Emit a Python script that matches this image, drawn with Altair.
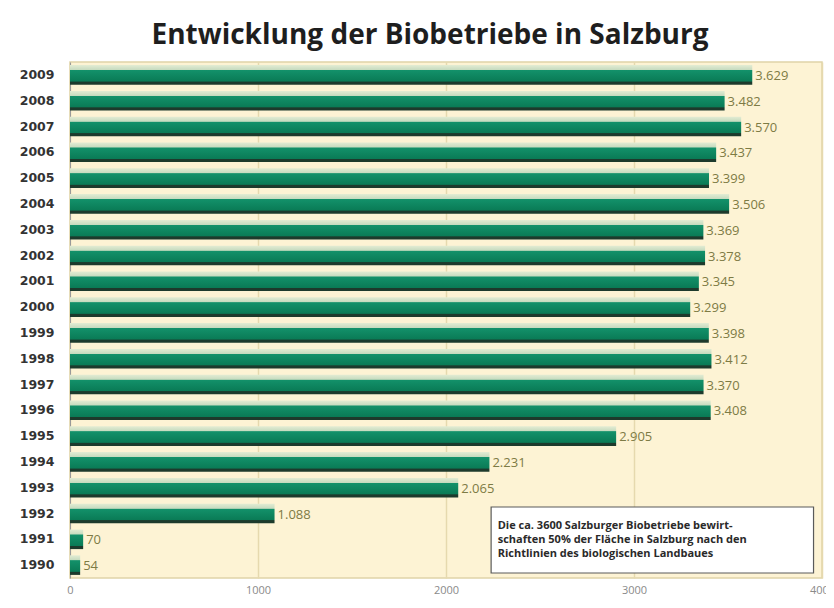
import altair as alt
import pandas as pd

years = [2009, 2008, 2007, 2006, 2005, 2004, 2003, 2002, 2001, 2000,
         1999, 1998, 1997, 1996, 1995, 1994, 1993, 1992, 1991, 1990]
values = [3629, 3482, 3570, 3437, 3399, 3506, 3369, 3378, 3345, 3299,
          3398, 3412, 3370, 3408, 2905, 2231, 2065, 1088, 70, 54]
x_ticks = [0, 1000, 2000, 3000, 4000]
note_lines = [
    "Die ca. 3600 Salzburger Biobetriebe bewirt-",
    "schaften 50% der Fläche in Salzburg nach den",
    "Richtlinien des biologischen Landbaues",
]
title_text = "Entwicklung der Biobetriebe in Salzburg"

df = pd.DataFrame({
    "Jahr": [str(y) for y in years],
    "Betriebe": values,
    "Label": [f"{v:,}".replace(",", ".") for v in values],
})
year_order = [str(y) for y in years]

x_scale = alt.Scale(domain=[0, 4000], nice=False, zero=True)
y_scale = alt.Scale(domain=year_order, paddingInner=0.24, paddingOuter=0.12)

bar_gradient = alt.Gradient(
    gradient="linear", x1=0, y1=0, x2=0, y2=1,
    stops=[
        alt.GradientStop(offset=0, color="#e3ecd3"),
        alt.GradientStop(offset=0.24, color="#c6dbbf"),
        alt.GradientStop(offset=0.27, color="#13916a"),
        alt.GradientStop(offset=0.82, color="#0a7b56"),
        alt.GradientStop(offset=0.86, color="#1d3a2c"),
        alt.GradientStop(offset=1, color="#1d3a2c"),
    ],
)

base = alt.Chart(df)

bars = base.mark_bar(color=bar_gradient).encode(
    x=alt.X("Betriebe:Q", scale=x_scale,
            axis=alt.Axis(values=x_ticks, format="d", title=None,
                          labelFont="Open Sans", labelFontSize=11,
                          labelColor="#8a8a8a", ticks=False,
                          domain=False, grid=True, gridColor="#e6d9ae",
                          gridWidth=1.5, labelPadding=6, labelFlush=False)),
    y=alt.Y("Jahr:N", scale=y_scale, sort=year_order,
            axis=alt.Axis(title=None, labelFont="DejaVu Sans", labelFontSize=12.5,
                          labelFontWeight="bold", labelColor="#333333",
                          ticks=False, domain=True, domainColor="#999999",
                          labelPadding=16)),
)

labels = base.mark_text(align="left", baseline="middle", dx=3, dy=1,
                        font="Open Sans", fontSize=13, color="#7d7b45").encode(
    x=alt.X("Betriebe:Q", scale=x_scale),
    y=alt.Y("Jahr:N", scale=y_scale, sort=year_order, axis=None),
    text="Label:N",
)

box_df = pd.DataFrame({"x0": [2240], "x1": [3955]})
box = alt.Chart(box_df).mark_rect(fill="#ffffff", stroke="#5a5a5a",
                                  strokeWidth=1.2).encode(
    x=alt.X("x0:Q", scale=x_scale),
    x2="x1:Q",
    y=alt.value(445),
    y2=alt.value(511),
)

note_df = pd.DataFrame({"line": note_lines, "i": list(range(len(note_lines)))})
note = alt.Chart(note_df).mark_text(align="left", baseline="middle",
                                    font="Open Sans", fontSize=11,
                                    fontWeight="bold", color="#2a2a2a").encode(
    x=alt.value((2275 / 4000) * 752),
    y=alt.Y("i:O", scale=alt.Scale(range=[457, 499]), axis=None),
    text="line:N",
)

chart = alt.layer(bars, labels, box, note).resolve_scale(y="independent").properties(
    width=752,
    height=516,
    autosize="none",
    padding={"left": 62, "top": 54, "right": 4, "bottom": 22},
    background="#ffffff",
    title=alt.Title(title_text, font="Open Sans", fontSize=28, fontWeight="bold",
                    color="#1e1e1e", anchor="middle", dx=-16, offset=12),
).configure_view(fill="#fdf3d4", stroke="#e0d4a8", strokeWidth=1.5)

chart.save("out.html", embed_options={"renderer": "svg", "actions": False})
